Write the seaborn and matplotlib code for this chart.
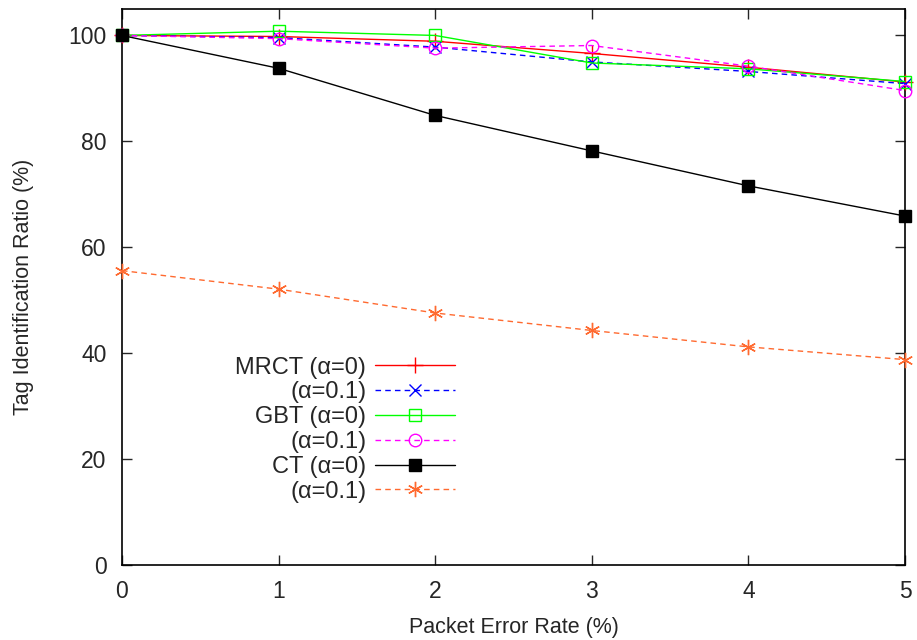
import matplotlib
matplotlib.use("Agg")
import matplotlib.pyplot as plt
import seaborn as sns
import pandas as pd

per = [0, 1, 2, 3, 4, 5]
mrct_a0 = [100, 99.8, 98.9, 96.6, 94.0, 91.2]
mrct_a01 = [100, 99.6, 97.8, 95.0, 93.2, 90.9]
gbt_a0 = [100, 100.8, 100.0, 94.8, 93.7, 91.3]
gbt_a01 = [100, 99.4, 97.6, 98.1, 94.2, 89.6]
ct_a0 = [100, 93.8, 84.9, 78.2, 71.6, 65.9]
ct_a01 = [55.6, 52.1, 47.6, 44.3, 41.2, 38.8]

labels = ["MRCT (α=0)", "(α=0.1)", "GBT (α=0)", "(α=0.1)", "CT (α=0)", "(α=0.1)"]
series = [mrct_a0, mrct_a01, gbt_a0, gbt_a01, ct_a0, ct_a01]

sns.set_theme(style="white")
plt.rcParams['font.family'] = ['Liberation Sans', 'DejaVu Sans']

styles = [
    dict(color="#ff0000", ls="-", marker="+", mfc="#ff0000", ms=11),
    dict(color="#0000ff", ls=(0, (4, 3)), marker="x", mfc="#0000ff", ms=8),
    dict(color="#00ff00", ls="-", marker="s", mfc="none", ms=9),
    dict(color="#ff00ff", ls=(0, (4, 3)), marker="o", mfc="none", ms=9),
    dict(color="#000000", ls="-", marker="s", mfc="#000000", ms=8),
    dict(color="#ff6a30", ls=(0, (4, 3)), marker=(6, 2, 0), mfc="#ff6a30", ms=11),
]

fig = plt.figure(figsize=(9.17, 6.4), dpi=100)
ax = fig.add_axes([0.133, 0.117, 0.854, 0.869])

for lab, vals, st in zip(labels, series, styles):
    df = pd.DataFrame({"x": per, "y": vals})
    sns.lineplot(data=df, x="x", y="y", ax=ax, color=st["color"], linestyle=st["ls"],
                 marker=st["marker"], markerfacecolor=st["mfc"], markeredgecolor=st["color"],
                 markersize=st["ms"], markeredgewidth=1.0, linewidth=1.0, label=lab,
                 clip_on=False, zorder=3)

ax.set_xlim(0, 5)
ax.set_ylim(0, 105)
ax.set_xticks(per)
ax.set_yticks([0, 20, 40, 60, 80, 100])
ax.tick_params(direction="in", length=7, width=1.0, labelsize=16.5, top=True, right=True,
               bottom=True, left=True)
ax.tick_params(axis="y", pad=11)
ax.tick_params(axis="x", pad=11)
ax.set_xticklabels([str(v) for v in per])
for s in ax.spines.values():
    s.set_color("black")
    s.set_linewidth(1.2)
    s.set_zorder(2)
ax.set_xlabel("Packet Error Rate (%)", fontsize=15.5, labelpad=10)
ax.set_ylabel("Tag Identification Ratio (%)", fontsize=15.5, labelpad=25)

leg = ax.legend(loc="upper right", bbox_to_anchor=(0.425, 0.375), frameon=False,
                markerfirst=False, fontsize=17, handlelength=3.4, labelspacing=0.12,
                handletextpad=0.35, borderaxespad=0, borderpad=0)
for t in leg.get_texts():
    t.set_ha("right")
leg._legend_box.align = "right"

fig.savefig("out.png", dpi=100)
